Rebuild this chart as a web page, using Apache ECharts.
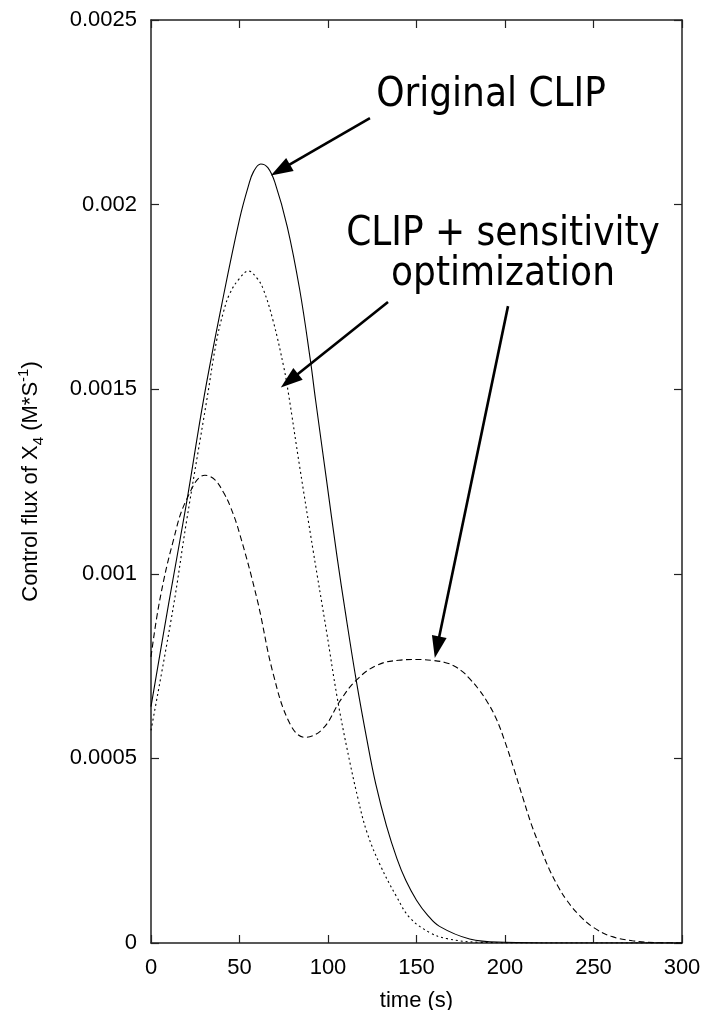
<!DOCTYPE html>
<html>
<head>
<meta charset="utf-8">
<script src="https://cdn.jsdelivr.net/npm/echarts@6/dist/echarts.min.js"></script>
<style>
html,body{margin:0;padding:0;background:#fff;}
#chart{width:706px;height:1010px;}
</style>
</head>
<body>
<div id="chart"></div>
<script>
// ---- data ----
const xTicks = [0, 50, 100, 150, 200, 250, 300];
const yTickLabels = ['0', '0.0005', '0.001', '0.0015', '0.002', '0.0025'];

const originalTime = [0, 10, 20, 30, 40, 50, 55, 58, 62, 66, 70, 77, 84, 90, 93, 99, 105, 110, 116, 122, 127, 133, 139, 144, 150, 156, 163, 180, 200, 230, 300];
const originalFlux = [0.00064, 0.00092, 0.00119, 0.00148, 0.00173, 0.00196, 0.00205, 0.00209, 0.00211, 0.0021, 0.00206, 0.00194, 0.00177, 0.00158, 0.00147, 0.00126, 0.00105, 0.00089, 0.00071, 0.00055, 0.00043, 0.000318, 0.000228, 0.000169, 0.000116, 0.000077, 0.000045, 0.000011, 0.000002, 0, 0];

const dottedTime = [0, 12.6, 20, 31.5, 37, 41, 44.6, 50, 55, 60, 63.5, 69, 75, 77.6, 84, 91.7, 99.3, 105, 110.6, 117, 122, 129.4, 138.8, 146.3, 157.6, 167, 185, 220, 300];
const dottedFlux = [0.000576, 0.00091, 0.00114, 0.00147, 0.00163, 0.00171, 0.00176, 0.0018, 0.00182, 0.0018, 0.00177, 0.001685, 0.00156, 0.00149, 0.00129, 0.00106, 0.00084, 0.00067, 0.00053, 0.00039, 0.0003, 0.000212, 0.000125, 0.000068, 0.000028, 0.000012, 0.000002, 0, 0];

const dashedTime = [0, 5, 12.6, 20, 30.5, 36, 41, 45, 50, 60, 69, 78.5, 87, 97, 107, 116, 127.5, 140, 150, 160, 166, 171, 176, 180, 185, 190, 195, 200, 205, 210, 215, 220, 225, 230, 235, 242, 250, 260, 272, 285, 300];
const dashedFlux = [0.000775, 0.00093, 0.00109, 0.0012, 0.001267, 0.001255, 0.00122, 0.00118, 0.00111, 0.00093, 0.00073, 0.000594, 0.000557, 0.00058, 0.000657, 0.000712, 0.000752, 0.000766, 0.000768, 0.000765, 0.00076, 0.000751, 0.000735, 0.000716, 0.000688, 0.000653, 0.000608, 0.000545, 0.000472, 0.000395, 0.00032, 0.000258, 0.0002, 0.000153, 0.000115, 0.000075, 0.000042, 0.000018, 0.000006, 0.000001, 0];

// annotation arrows: [from, to] in data coordinates
const arrowCoords = [
  [[123.7, 0.002234], [73.1, 0.002094]],
  [[133.9, 0.001736], [78.2, 0.001523]],
  [[201.7, 0.001725], [161.6, 0.000801]]
];
const annotationTexts = ['Original CLIP', 'CLIP + sensitivity\noptimization'];

function zip(a, b) { return a.map((t, i) => [t, b[i]]); }

const chart = echarts.init(document.getElementById('chart'), null, {renderer: 'canvas'});
const axisColor = '#222';
const labelFont = '"Liberation Sans", Arial, sans-serif';
const annFont = '"DejaVu Sans Condensed", "Liberation Sans", sans-serif';

const commonX = {
  type: 'value', min: 0, max: 300, interval: 50,
  splitLine: {show: false},
  axisLine: {show: true, onZero: false, lineStyle: {color: axisColor, width: 1.5}},
  axisTick: {show: true, inside: true, length: 8, lineStyle: {color: axisColor, width: 1.2}}
};
const commonY = {
  type: 'value', min: 0, max: 0.0025, interval: 0.0005,
  splitLine: {show: false},
  axisLine: {show: true, onZero: false, lineStyle: {color: axisColor, width: 1.5}},
  axisTick: {show: true, inside: true, length: 8, lineStyle: {color: axisColor, width: 1.2}}
};

const lineCommon = {
  type: 'line', xAxisIndex: 0, yAxisIndex: 0, showSymbol: false, symbol: 'none',
  smooth: 0.4
};

const option = {
  backgroundColor: '#fff',
  animation: false,
  grid: {left: 151, right: 24, top: 20, bottom: 67, containLabel: false, outerBoundsMode: 'none'},
  xAxis: [
    Object.assign({}, commonX, {
      position: 'bottom',
      name: 'time (s)', nameLocation: 'middle', nameGap: 47,
      nameTextStyle: {fontFamily: labelFont, fontSize: 22, color: '#000'},
      axisLabel: {show: true, margin: 14, fontFamily: labelFont, fontSize: 22, color: '#000'}
    }),
    Object.assign({}, commonX, {position: 'top', axisLabel: {show: false}})
  ],
  yAxis: [
    Object.assign({}, commonY, {
      position: 'left',
      name: '{a|Control flux of X}{sub|4}{a| (M*S}{sup|-1}{a|)}',
      nameLocation: 'middle', nameGap: 105, nameRotate: 90,
      nameTextStyle: {
        fontFamily: labelFont, fontSize: 22, color: '#000',
        rich: {
          a: {fontFamily: labelFont, fontSize: 22, color: '#000', lineHeight: 30},
          sub: {fontFamily: labelFont, fontSize: 15, color: '#000', verticalAlign: 'bottom', lineHeight: 15},
          sup: {fontFamily: labelFont, fontSize: 15, color: '#000', verticalAlign: 'top', lineHeight: 15}
        }
      },
      axisLabel: {
        show: true, margin: 14, fontFamily: labelFont, fontSize: 22, color: '#000',
        formatter: function (v) {
          const idx = Math.round(v / 0.0005);
          return yTickLabels[idx] !== undefined ? yTickLabels[idx] : String(v);
        }
      }
    }),
    Object.assign({}, commonY, {position: 'right', axisLabel: {show: false}})
  ],
  series: [
    Object.assign({}, lineCommon, {
      name: 'Original CLIP',
      data: zip(originalTime, originalFlux),
      lineStyle: {color: '#000', width: 1.1, type: 'solid'},
      markLine: {
        silent: true, animation: false,
        symbol: ['none', 'triangle'], symbolSize: [15, 22],
        lineStyle: {color: '#000', width: 2.6, type: 'solid'},
        itemStyle: {color: '#000'},
        label: {show: false},
        emphasis: {disabled: true},
        data: arrowCoords.map(a => [{coord: a[0]}, {coord: a[1]}])
      }
    }),
    Object.assign({}, lineCommon, {
      name: 'optimized A',
      data: zip(dottedTime, dottedFlux),
      lineStyle: {color: '#000', width: 1.1, type: [2, 3]}
    }),
    Object.assign({}, lineCommon, {
      name: 'optimized B',
      data: zip(dashedTime, dashedFlux),
      lineStyle: {color: '#000', width: 1.1, type: [6, 3.5]}
    })
  ],
  graphic: [
    {type: 'text', x: 491, y: 96,
     style: {text: annotationTexts[0], x: 0, y: 0, align: 'center', verticalAlign: 'middle',
             font: '40px ' + annFont, fill: '#000'}},
    {type: 'text', x: 503, y: 255,
     style: {text: annotationTexts[1], x: 0, y: 0, align: 'center', verticalAlign: 'middle',
             font: '40px ' + annFont, fill: '#000', lineHeight: 40}}
  ]
};
chart.setOption(option);
</script>
</body>
</html>
